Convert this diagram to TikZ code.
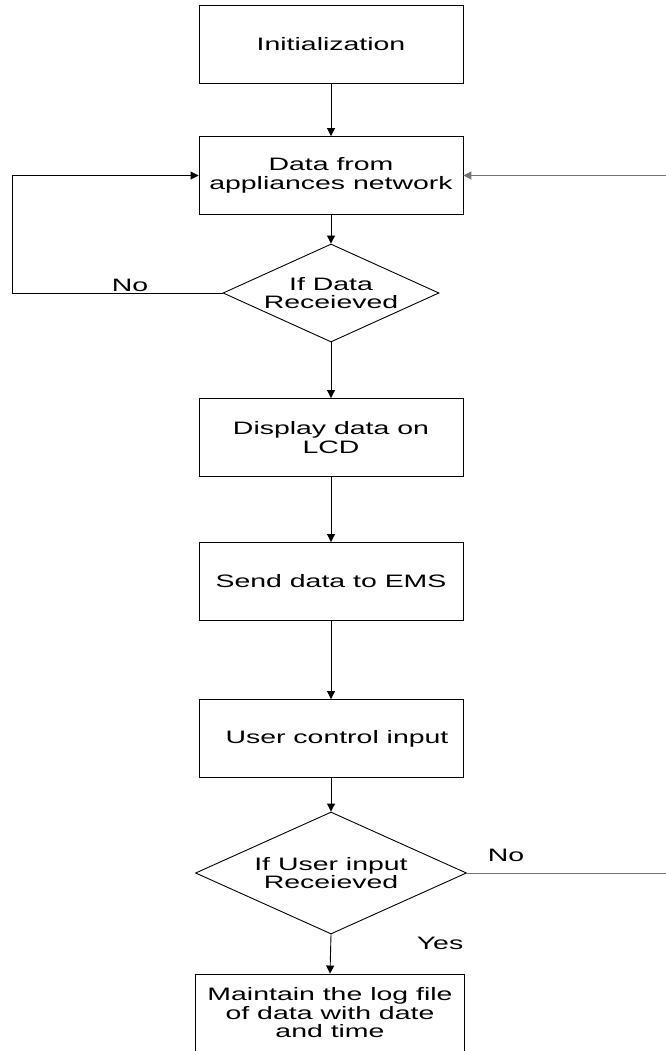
\documentclass[tikz,border=0pt]{standalone}
\usepackage{fontspec}
\setmainfont{Liberation Sans}[FakeStretch=1.58]
\usetikzlibrary{shapes.geometric,arrows.meta}
\begin{document}
\begin{tikzpicture}[x=1pt,y=-1pt,
  every node/.style={font=\fontsize{18}{18.5}\selectfont},
  procbox/.style={draw=black, line width=0.9pt, minimum width=264pt, minimum height=78pt, inner sep=0pt, align=center},
  decbox/.style={draw=black, line width=0.9pt, diamond, inner sep=0pt},
  dectext/.style={inner sep=0pt, align=center},
  flow/.style={line width=0.9pt, -{Triangle[length=8pt,width=8pt]}},
  loopline/.style={line width=1pt, draw=black!55},
  lbl/.style={inner sep=0pt}
]
\useasboundingbox (0,0) rectangle (665,1051);
\node[procbox] (init) at (331,44.25) {Initialization};
\node[procbox] (data) at (331,175.5) {Data from\\appliances network};
\node[decbox, minimum width=216pt, minimum height=98pt] (dec1) at (331,293) {};
\node[dectext] (dec1t) at (dec1.center) {If Data\\Receieved};
\node[procbox] (disp) at (331,437.5) {Display data on\\LCD};
\node[procbox] (send) at (331,581.5) {Send data to EMS};
\node[procbox] (user) at (331,738.5) {\hspace*{12pt}User control input};
\node[decbox, minimum width=271pt, minimum height=122pt] (dec2) at (331,873) {};
\node[dectext] (dec2t) at (dec2.center) {If User input\\Receieved};
\node[procbox, minimum width=269pt, minimum height=84pt] (log) at (330,1016) {};
\node[dectext] (logt) at (330,1013) {Maintain the log file\\of data with date\\and time};

\coordinate (lt) at (12,293);
\coordinate (lb) at (12,175.5);
\coordinate (rt) at (666,873);
\coordinate (rb) at (666,175.5);

\draw[flow] (init) -- (data);
\draw[flow] (data) -- (dec1);
\draw[flow] (dec1) -- (disp);
\draw[flow] (disp) -- (send);
\draw[flow] (send) -- (user);
\draw[flow] (user) -- (dec2);
\draw[flow] (dec2.south) -- (log.north);
\draw[line width=0.9pt] (dec1.west) -- (lt) -- (lb);
\draw[flow] (lb) -- (data.west);
\draw[loopline] (dec2.east) -- (rt);
\draw[loopline, -{Triangle[length=8pt,width=8pt]}] (rb) -- (data.east);

\node[lbl] (no1) at (130,285) {No};
\node[lbl] (no2) at (506,855) {No};
\node[lbl] (yes) at (440,943) {Yes};
\end{tikzpicture}
\end{document}
